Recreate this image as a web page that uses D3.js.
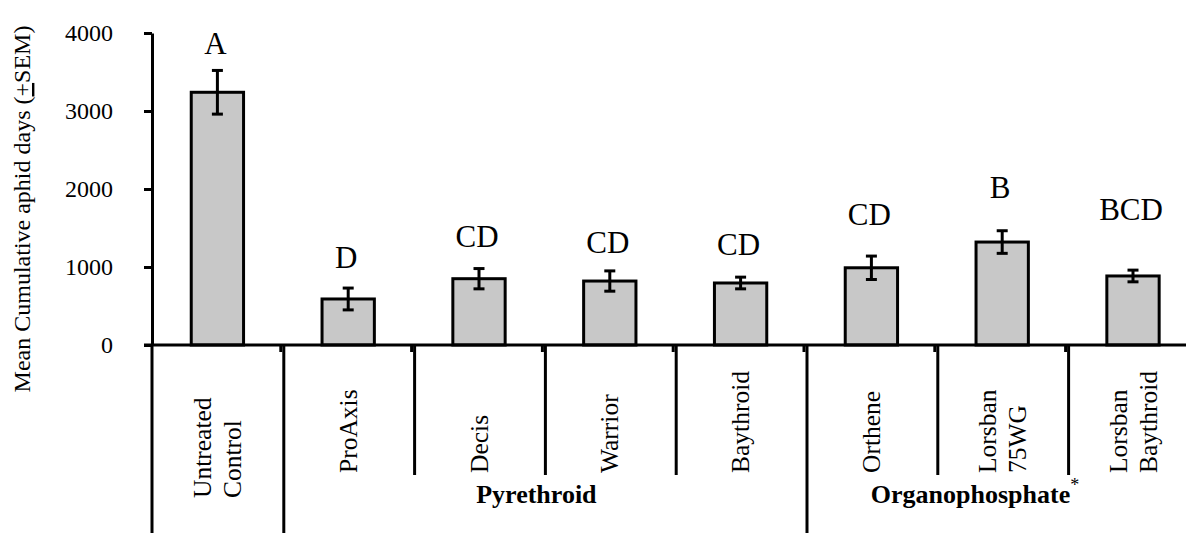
<!DOCTYPE html>
<html>
<head>
<meta charset="utf-8">
<script src="https://cdn.jsdelivr.net/npm/d3@7"></script>
<style>
  html, body { margin: 0; padding: 0; background: #fff; }
  svg { display: block; }
  text { font-family: "Liberation Serif", "Times New Roman", serif; fill: #000; }
</style>
</head>
<body>
<script>
// ---------------- data ----------------
const categoryLines = [["Untreated", "Control"], ["ProAxis"], ["Decis"], ["Warrior"], ["Baythroid"], ["Orthene"], ["Lorsban", "75WG"], ["Lorsban", "Baythroid"]];
const groupOf = ["", "Pyrethroid", "Pyrethroid", "Pyrethroid", "Pyrethroid", "Organophosphate", "Organophosphate", "Organophosphate"];
const groupNames = ["Pyrethroid", "Organophosphate"];
const groupMarks = ["", "*"];
const means = [3240, 590, 850, 820, 795, 990, 1320, 885];
const sems = [280, 140, 130, 130, 75, 150, 145, 75];
const letters = ["A", "D", "CD", "CD", "CD", "CD", "B", "BCD"];
const letterLevels = [3730, 990, 1256, 1180, 1154, 1538, 1885, 1603];
const yTicks = [0, 1000, 2000, 3000, 4000];
const yTitleParts = ["Mean Cumulative aphid days (", "+", "SEM)"];

// ---------------- layout ----------------
const W = 1186, H = 533;
const svg = d3.select("body").append("svg").attr("width", W).attr("height", H);

const idx = d3.range(categoryLines.length);
const x = d3.scaleBand().domain(idx).range([152, 1198.4]).paddingInner(0.6).paddingOuter(0.3);
const y = d3.scaleLinear().domain([0, 4000]).range([345, 33]);
const boundary = i => x.range()[0] + i * x.step();
const cx = i => x(i) + x.bandwidth() / 2;

// bars
svg.append("g").selectAll("rect").data(idx).join("rect")
  .attr("x", i => x(i)).attr("y", i => y(means[i]))
  .attr("width", x.bandwidth()).attr("height", i => y(0) - y(means[i]))
  .attr("fill", "#c8c8c8").attr("stroke", "#000").attr("stroke-width", 3);

// error bars
const eb = svg.append("g").attr("stroke", "#000").attr("stroke-width", 3);
idx.forEach(i => {
  const c = cx(i), t = y(means[i] + sems[i]), b = y(means[i] - sems[i]);
  eb.append("line").attr("x1", c).attr("x2", c).attr("y1", t).attr("y2", b);
  eb.append("line").attr("x1", c - 5.5).attr("x2", c + 5.5).attr("y1", t).attr("y2", t);
  eb.append("line").attr("x1", c - 5.5).attr("x2", c + 5.5).attr("y1", b).attr("y2", b);
});

// significance letters
svg.append("g").selectAll("text").data(idx).join("text")
  .attr("x", i => cx(i) - 2).attr("y", i => y(letterLevels[i]))
  .attr("text-anchor", "middle").style("font-size", "31px")
  .text(i => letters[i]);

// y axis
const yAxis = svg.append("g").attr("transform", `translate(${x.range()[0]},0)`)
  .call(d3.axisLeft(y).tickValues(yTicks).tickFormat(d3.format("d"))
    .tickSize(8).tickSizeOuter(0).tickPadding(31));
yAxis.select(".domain").attr("stroke", "#000").attr("stroke-width", 3);
yAxis.selectAll(".tick line").attr("stroke", "#000").attr("stroke-width", 3);
yAxis.selectAll(".tick text").style("font-size", "24px")
  .style("font-family", "'Liberation Serif', 'Times New Roman', serif").attr("fill", "#000");

// x axis baseline
svg.append("line").attr("x1", x.range()[0] - 8).attr("x2", W)
  .attr("y1", y(0)).attr("y2", y(0)).attr("stroke", "#000").attr("stroke-width", 3);

// separators under the axis
const sep = svg.append("g").attr("stroke", "#000").attr("stroke-width", 3);
sep.append("line").attr("x1", boundary(0)).attr("x2", boundary(0)).attr("y1", y(0)).attr("y2", H);
for (let i = 1; i < categoryLines.length; i++) {
  const bx = boundary(i);
  const full = groupOf[i] !== groupOf[i - 1];
  sep.append("line").attr("x1", bx + 1).attr("x2", bx + 1).attr("y1", y(0)).attr("y2", full ? H : 475);
  sep.append("line").attr("x1", bx - 2).attr("x2", bx - 2).attr("y1", y(0)).attr("y2", y(0) + 7);
}

// category labels (rotated)
const lineGap = 30;
idx.forEach(i => {
  const lines = categoryLines[i];
  const bottom = groupOf[i] === "" ? 498 : 473;
  lines.forEach((t, k) => {
    const base = cx(i) + 8.5 + (k - (lines.length - 1) / 2) * lineGap;
    svg.append("text")
      .attr("transform", `translate(${base},${bottom}) rotate(-90)`)
      .attr("text-anchor", "start").style("font-size", "25.5px")
      .text(t);
  });
});

// group labels
groupNames.forEach((g, k) => {
  const members = idx.filter(i => groupOf[i] === g);
  const left = boundary(d3.min(members));
  const right = Math.min(boundary(d3.max(members) + 1), W - 26);
  const t = svg.append("text").attr("x", (left + right) / 2 - 8).attr("y", 503)
    .attr("text-anchor", "middle").style("font-size", "26px").style("font-weight", "bold");
  t.append("tspan").text(g);
  if (groupMarks[k]) {
    t.append("tspan").attr("dy", -12).style("font-size", "18px").style("font-weight", "normal").text(groupMarks[k]);
  }
});

// y title
const yt = svg.append("text").attr("transform", "translate(30,209) rotate(-90)")
  .attr("text-anchor", "middle").style("font-size", "24px");
yt.append("tspan").text(yTitleParts[0]);
yt.append("tspan").style("text-decoration", "underline").text(yTitleParts[1]);
yt.append("tspan").text(yTitleParts[2]);
</script>
</body>
</html>
